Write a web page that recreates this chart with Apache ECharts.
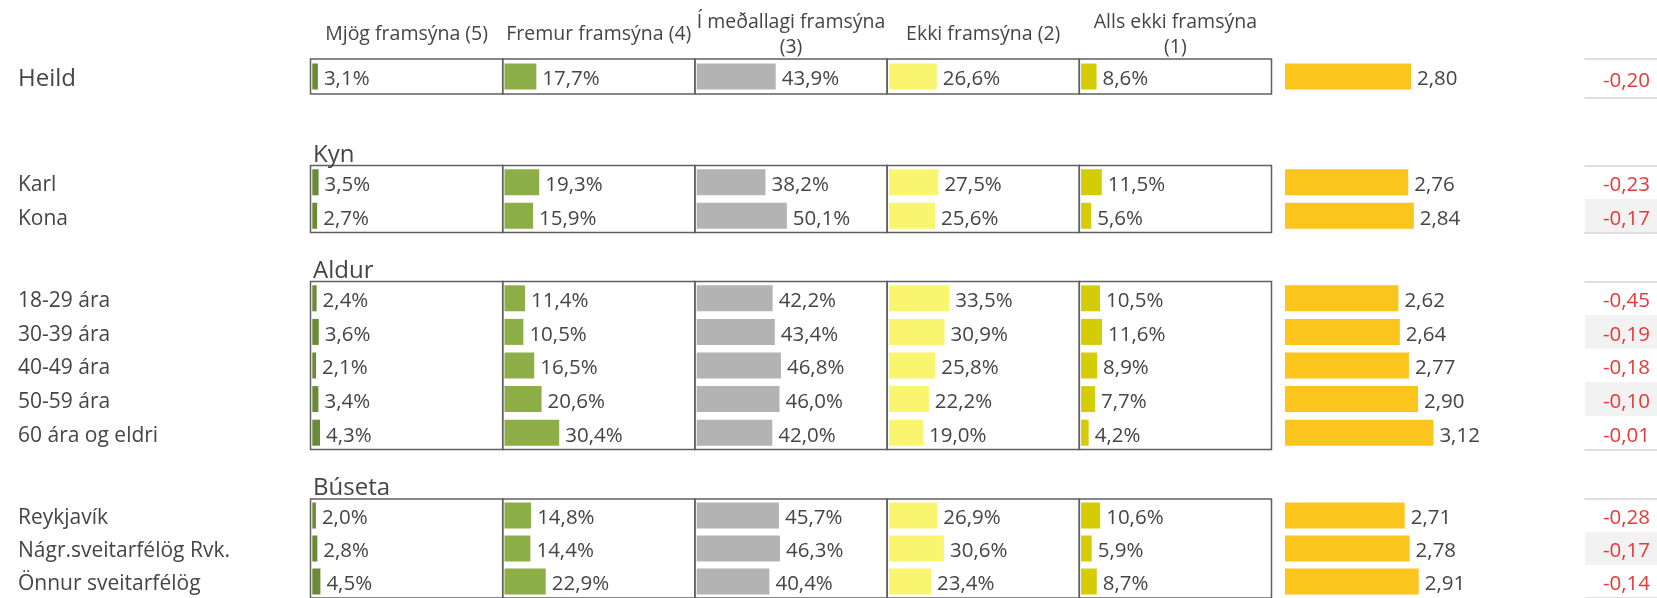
<!DOCTYPE html>
<html>
<head>
<meta charset="utf-8">
<style>
html, body { margin: 0; padding: 0; background: #fff; }
#chart { width: 1657px; height: 598px; }
</style>
<script src="https://cdn.jsdelivr.net/npm/echarts@6/dist/echarts.min.js"></script>
</head>
<body>
<div id="chart"></div>
<script>
// hópar og línur
var groupNames = ['Heild', 'Kyn', 'Aldur', 'Búseta'];
var rowLabels = [
    ['Heild'],
    ['Karl', 'Kona'],
    ['18-29 ára', '30-39 ára', '40-49 ára', '50-59 ára', '60 ára og eldri'],
    ['Reykjavík', 'Nágr.sveitarfélög Rvk.', 'Önnur sveitarfélög']
];
var columnNames = ['Mjög framsýna (5)', 'Fremur framsýna (4)', 'Í meðallagi framsýna\n(3)', 'Ekki framsýna (2)', 'Alls ekki framsýna\n(1)'];

// gildi (%), ein röð á hverja línu
var mjog     = [3.1, 3.5, 2.7, 2.4, 3.6, 2.1, 3.4, 4.3, 2.0, 2.8, 4.5];
var fremur   = [17.7, 19.3, 15.9, 11.4, 10.5, 16.5, 20.6, 30.4, 14.8, 14.4, 22.9];
var medal    = [43.9, 38.2, 50.1, 42.2, 43.4, 46.8, 46.0, 42.0, 45.7, 46.3, 40.4];
var ekki     = [26.6, 27.5, 25.6, 33.5, 30.9, 25.8, 22.2, 19.0, 26.9, 30.6, 23.4];
var allsEkki = [8.6, 11.5, 5.6, 10.5, 11.6, 8.9, 7.7, 4.2, 10.6, 5.9, 8.7];
// meðaltal og breyting
var medaltal = [2.80, 2.76, 2.84, 2.62, 2.64, 2.77, 2.90, 3.12, 2.71, 2.78, 2.91];
var breyting = [-0.20, -0.23, -0.17, -0.45, -0.19, -0.18, -0.10, -0.01, -0.28, -0.17, -0.14];

var colValues = [mjog, fremur, medal, ekki, allsEkki];
var colColors = ['#6b8a35', '#8dae47', '#b3b3b3', '#faf56e', '#d5cc08'];

var font = '"Open Sans", "Noto Sans", sans-serif';
var textColor = '#454545';

// uppsetning
var colLeft = 310.5, colWidth = 192.2;
var groupTop = [59, 165.5, 281.5, 499];
var groupHeight = [35, 67, 168, 101];

function fmt1(v) { return v.toFixed(1).replace('.', ','); }
function fmt2(v) { return v.toFixed(2).replace('.', ','); }

var grids = [], xAxes = [], yAxes = [], series = [];
var start = 0;

groupNames.forEach(function (g, gi) {
    var labels = rowLabels[gi];
    var n = labels.length;
    var s = start;
    var top = groupTop[gi], height = groupHeight[gi];

    // fimm svarmöguleikar
    colValues.forEach(function (vals, ci) {
        var gIdx = grids.length, xIdx = xAxes.length;
        grids.push({left: colLeft + ci * colWidth, top: top, width: colWidth, height: height,
            show: true, borderColor: '#606060', borderWidth: 1.5});
        xAxes.push({gridIndex: gIdx, type: 'value', min: -1, max: 105.8, show: false});
        yAxes.push({gridIndex: gIdx, type: 'category', inverse: true, data: labels,
            axisLine: {show: false}, axisTick: {show: false}, splitLine: {show: false},
            // verticalAlign top + lágt lineHeight: texti færist ~3px niður
            axisLabel: ci === 0 ? {show: true, interval: 0, align: 'left', margin: colLeft - 18,
                verticalAlign: 'top', lineHeight: 6, color: textColor, fontFamily: font,
                fontSize: gi === 0 ? 24 : 21} : {show: false}});
        series.push({type: 'bar', xAxisIndex: xIdx, yAxisIndex: gIdx,
            data: vals.slice(s, s + n), barWidth: 26,
            itemStyle: {color: colColors[ci]},
            label: {show: true, position: 'right', distance: 6, offset: [0, 3], color: textColor,
                fontFamily: font, fontSize: 20.5,
                formatter: function (p) { return fmt1(p.value) + '%'; }}});
    });

    // meðaltal
    var mIdx = grids.length, mx = xAxes.length;
    grids.push({left: 1285, top: top, width: 280, height: height});
    xAxes.push({gridIndex: mIdx, type: 'value', min: 1, max: 5, show: false});
    yAxes.push({gridIndex: mIdx, type: 'category', inverse: true, data: labels, show: false});
    series.push({type: 'bar', xAxisIndex: mx, yAxisIndex: mIdx,
        data: medaltal.slice(s, s + n), barWidth: 26,
        itemStyle: {color: '#fcc51d'},
        label: {show: true, position: 'right', distance: 6, offset: [0, 3], color: textColor,
            fontFamily: font, fontSize: 20.5,
            formatter: function (p) { return fmt2(p.value); }}});

    // breyting
    var dIdx = grids.length, dx = xAxes.length;
    var dTop = gi === 0 ? 58.5 : top, dHeight = gi === 0 ? 39 : height;
    grids.push({left: 1585, top: dTop, width: 72, height: dHeight});
    var lineStyle = {color: '#d3d3d3', width: 1.5};
    xAxes.push({gridIndex: dIdx, type: 'value', min: -1, max: 0, position: 'bottom',
        axisLine: {show: true, lineStyle: lineStyle}, axisTick: {show: false},
        axisLabel: {show: false}, splitLine: {show: false}});
    xAxes.push({gridIndex: dIdx, type: 'value', min: -1, max: 0, position: 'top',
        axisLine: {show: true, lineStyle: lineStyle}, axisTick: {show: false},
        axisLabel: {show: false}, splitLine: {show: false}});
    yAxes.push({gridIndex: dIdx, type: 'category', inverse: true, position: 'right', data: labels,
        axisLine: {show: false}, axisTick: {show: false}, splitLine: {show: false},
        splitArea: {show: true, areaStyle: {color: ['rgba(255,255,255,0)', '#f2f2f2']}},
        axisLabel: {show: true, interval: 0, align: 'right', margin: -7, color: '#e53a3a',
            verticalAlign: 'top', lineHeight: 6, fontFamily: font, fontSize: 20.5,
            formatter: function (v, i) { return fmt2(breyting[s + i]); }}});

    start += n;
});

// fyrirsagnir
var graphics = [];
columnNames.forEach(function (name, ci) {
    graphics.push({type: 'text', x: colLeft + ci * colWidth + colWidth / 2, y: 34.5,
        style: {text: name, align: 'center', verticalAlign: 'middle', lineHeight: 25,
            font: '19.5px ' + font, fill: textColor}});
});
var titleY = [155, 271.5, 488.5];
groupNames.slice(1).forEach(function (name, i) {
    graphics.push({type: 'text', x: 313, y: titleY[i],
        style: {text: name, align: 'left', verticalAlign: 'middle',
            font: '24px ' + font, fill: textColor}});
});

var chart = echarts.init(document.getElementById('chart'));
chart.setOption({
    animation: false,
    backgroundColor: '#fff',
    grid: grids,
    xAxis: xAxes,
    yAxis: yAxes,
    series: series,
    graphic: graphics
});
</script>
</body>
</html>
